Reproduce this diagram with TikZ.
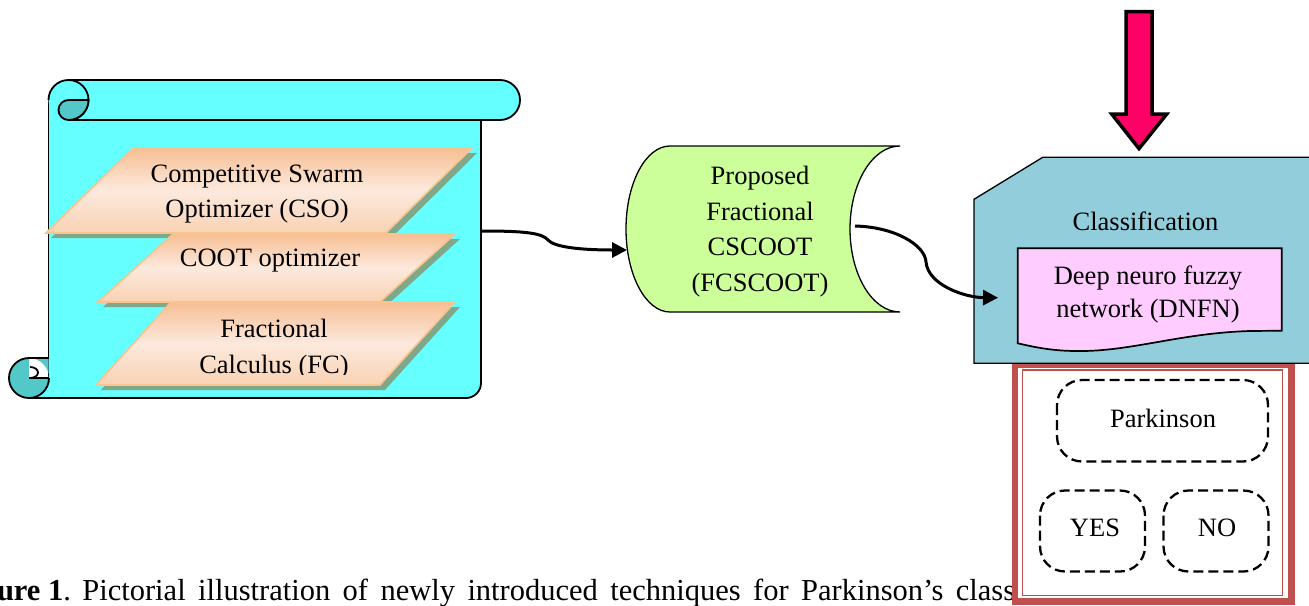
\documentclass[tikz,border=0pt]{standalone}
\usepackage{fontspec}
\setmainfont{Liberation Serif}
\usetikzlibrary{arrows.meta}

\definecolor{scrollcyan}{HTML}{66FFFF}
\definecolor{curlteal}{HTML}{52C8C8}
\definecolor{peachdark}{HTML}{F7BF94}
\definecolor{peachlight}{HTML}{FCE9DD}
\definecolor{peachmid}{HTML}{F9D2B3}
\definecolor{peachedge}{HTML}{F9C38F}
\definecolor{shadowgreen}{HTML}{7FA88A}
\definecolor{storegreen}{HTML}{CCFF99}
\definecolor{classblue}{HTML}{92CDDC}
\definecolor{dnfnpink}{HTML}{FFCCFF}
\definecolor{framered}{HTML}{C0504D}
\definecolor{arrowred}{HTML}{FF0066}

\begin{document}
\begin{tikzpicture}[x=0.5pt,y=-0.5pt,
  txt/.style={font=\fontsize{13.25}{17.75}\selectfont, align=center, inner sep=0pt},
  outline/.style={draw=black, line width=0.9pt},
  thinline/.style={draw=black, line width=0.65pt},
  conn/.style={line width=1.5pt, -{Triangle[length=7.5pt,width=7.5pt]}},
  choice/.style={draw=black, line width=1.15pt, dash pattern=on 5pt off 2.5pt, rounded corners=12.5pt},
  layer/.style={draw=peachedge, line width=0.8pt, top color=peachdark, bottom color=peachmid, middle color=peachlight},
  layershadow/.style={fill=shadowgreen, shift={(5,5)}},
]
\useasboundingbox (0,0) rectangle (1309,605);

% ---------- caption line ----------
\node[anchor=base west, inner sep=0pt, font=\fontsize{15.25}{18}\selectfont] (caption) at (82,600)
  {\spaceskip=6.2pt plus 1pt\llap{\spaceskip=0pt\textbf{Figure 1}.\kern5.7pt}Pictorial illustration of newly introduced techniques for Parkinson’s classification.};

% ---------- scroll ----------
% body
\path[fill=scrollcyan] (48.5,100) -- (48.5,378) -- (29,378) -- (29,398) -- (466,398)
  arc[start angle=90, end angle=0, radius=15] -- (481,100) -- cycle;
% top roll
\path[outline, fill=scrollcyan] (68.5,80) -- (500,80) arc[start angle=270, end angle=450, radius=20] -- (68.5,120);
% body edges
\draw[outline] (48.5,100) -- (48.5,378);
\draw[outline] (481,120) -- (481,383) arc[start angle=0, end angle=90, radius=15] -- (29,398);
% top-left curl
\path[fill=scrollcyan] (68.5,100) circle[radius=20];
\draw[outline] (48.5,100) arc[start angle=180, end angle=450, radius=20];
\path[outline, fill=curlteal] (68.5,100) arc[start angle=270, end angle=90, radius=10]
  arc[start angle=90, end angle=0, radius=20] -- cycle;
% bottom-left curl
\path[fill=curlteal] (29,378) circle[radius=20] (29,358) rectangle (48.5,378);
\draw[outline] (29,358) arc[start angle=270, end angle=0, radius=20];
\draw[outline] (29,358) -- (48.5,358);
\draw[outline] (29,378) -- (48.5,378);
\draw[outline] (30,367) arc[start angle=270, end angle=450, x radius=8, y radius=5.5];

% ---------- stacked layers ----------
\fill[layershadow] (133,148) -- (472,148) -- (386,233) -- (46,233) -- cycle;
\path[layer] (133,148) -- (472,148) -- (386,233) -- (46,233) -- cycle;
\node[txt] (cso) at (257,194) {Competitive Swarm\\Optimizer (CSO)};

\fill[layershadow] (173,234) -- (455,234) -- (380,302) -- (98,302) -- cycle;
\path[layer] (173,234) -- (455,234) -- (380,302) -- (98,302) -- cycle;
\node[txt] (coot) at (270,261) {COOT optimizer};

\fill[layershadow] (171,302) -- (455,302) -- (380,385) -- (96,385) -- cycle;
\path[layer] (171,302) -- (455,302) -- (380,385) -- (96,385) -- cycle;
\begin{scope}
  \clip (0,0) rectangle (1309,374);
  \node[txt] (fc) at (274,349) {Fractional\\Calculus (FC)};
\end{scope}

% ---------- stored-data shape ----------
\path[thinline, fill=storegreen] (670,146) -- (900,146)
  arc[start angle=270, end angle=90, x radius=50, y radius=83] -- (670,312)
  arc[start angle=90, end angle=270, x radius=44, y radius=83] -- cycle;
\node[txt, text depth=0pt] (fcscoot) at (760,229) {Proposed\\Fractional\\CSCOOT\\(FCSCOOT)};

% ---------- result frame ----------
\fill[white] (1011.7,361) rectangle (1295,605);
\draw[framered, line width=3.35pt] (1015,364.5) rectangle (1291.7,601.7);
\draw[framered, line width=0.85pt] (1022.5,370.3) rectangle (1282.5,595.5);

\draw[choice] (1057,380) rectangle (1268,461.5);
\node[txt] (park) at (1163,418) {Parkinson};
\draw[choice] (1040,490.5) rectangle (1145,571.5);
\node[txt] (yes) at (1095,528) {YES};
\draw[choice] (1163.5,490.5) rectangle (1268.5,571.5);
\node[txt] (no) at (1217,528) {NO};

% ---------- classification block ----------
\path[thinline, fill=classblue] (974,199.3) -- (1042.7,157.3) -- (1320,157.3) -- (1320,363.3) -- (974,363.3) -- cycle;
\node[txt] (cls) at (1145.5,221.5) {Classification};
\path[draw=black, line width=0.85pt, fill=dnfnpink] (1017.7,248.3) -- (1281.7,248.3) -- (1281.7,330.7)
  -- (1250,331) .. controls (1180,333) and (1130,352) .. (1076,351)
  .. controls (1050,351) and (1030,346) .. (1017.7,343.3) -- cycle;
\node[txt, font=\fontsize{13.25}{16.5}\selectfont] (dnfn) at (1148,294) {Deep neuro fuzzy\\network (DNFN)};

% ---------- input arrow ----------
\path[draw=black, line width=1.75pt, fill=arrowred, line join=miter]
  (1126,11.6) -- (1152,11.6) -- (1152,114) -- (1166.7,114) -- (1139,148.6)
  -- (1111.7,114) -- (1126,114) -- cycle;

% ---------- connectors ----------
\coordinate (scrollOut) at (482,231);
\coordinate (storeIn) at (627,250);
\coordinate (storeOut) at (855,226);
\coordinate (classIn) at (998,297.7);
\draw[conn] (scrollOut) .. controls (525,231) and (542,233) .. (548,240)
  .. controls (554,247) and (580,250) .. (storeIn);
\draw[conn] (storeOut) .. controls (895,227) and (925,245) .. (926,262)
  .. controls (928,285) and (965,297.5) .. (classIn);
\end{tikzpicture}
\end{document}
